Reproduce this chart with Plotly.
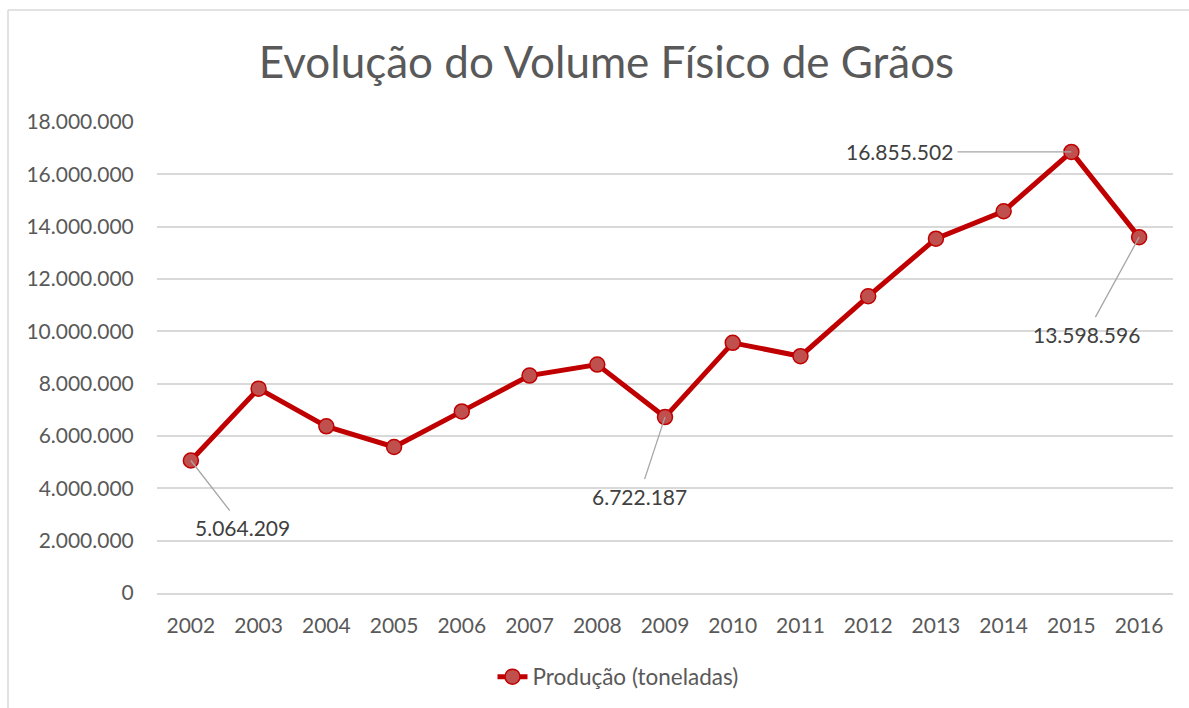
import plotly.graph_objects as go

years = ["2002", "2003", "2004", "2005", "2006", "2007", "2008", "2009",
         "2010", "2011", "2012", "2013", "2014", "2015", "2016"]
producao = [5064209, 7810000, 6370000, 5580000, 6940000, 8310000, 8730000, 6722187,
            9560000, 9050000, 11340000, 13540000, 14590000, 16855502, 13598596]
y_ticks = [0, 2000000, 4000000, 6000000, 8000000, 10000000, 12000000, 14000000, 16000000, 18000000]
labeled_years = ["2002", "2009", "2015", "2016"]
label_offsets = {"2002": (52, 67), "2009": (-26, 79), "2015": (-172, 0), "2016": (-53, 97)}

FONT = "Lato, Open Sans, sans-serif"

def fmt(v):
    return f"{v:,}".replace(",", ".")

W, H = 1189, 708
L, R, T, B = 157, 16, 122, 115
pw, ph = W - L - R, H - T - B

fig = go.Figure()
fig.add_trace(go.Scatter(
    x=years, y=producao, mode="lines+markers", name="Produção (toneladas)",
    line=dict(color="#c00000", width=5),
    marker=dict(size=15, color="#c0504d", line=dict(color="#c00000", width=1.5)),
))

annotations = []
for yr in labeled_years:
    i = years.index(yr)
    v = producao[i]
    ax, ay = label_offsets[yr]
    annotations.append(dict(
        x=i, y=v, xref="x", yref="y", text=fmt(v), showarrow=True,
        ax=ax, ay=ay, arrowhead=0, arrowwidth=1.3, arrowcolor="#a6a6a6",
        font=dict(family=FONT, size=21, color="#404040"), standoff=0, borderpad=4,
    ))

def px_x(p):
    return (p - L) / pw

def px_y(p):
    return (H - B - p) / ph

shapes = [
    dict(type="line", xref="paper", yref="paper", x0=px_x(8), x1=px_x(1189), y0=px_y(10), y1=px_y(10),
         line=dict(color="#d9d9d9", width=1.5)),
    dict(type="line", xref="paper", yref="paper", x0=px_x(8), x1=px_x(8), y0=px_y(10), y1=px_y(708),
         line=dict(color="#d9d9d9", width=1.5)),
]

fig.update_layout(
    width=W, height=H,
    margin=dict(l=L, r=R, t=T, b=B, autoexpand=False),
    paper_bgcolor="white", plot_bgcolor="white",
    title=dict(text="Evolução do Volume Físico de Grãos", x=(258 + 955) / 2 / W, xanchor="center",
               y=1 - 63 / H, yanchor="middle", yref="container",
               font=dict(family=FONT, size=44, color="#595959")),
    xaxis=dict(type="category", range=[-0.5, 14.5], showgrid=False, showline=True,
               linecolor="#d9d9d9", linewidth=1.5, ticks="outside", ticklen=13,
               tickcolor="rgba(0,0,0,0)", tickfont=dict(family=FONT, size=21, color="#595959"),
               fixedrange=True),
    yaxis=dict(range=[0, 18000000], tickvals=y_ticks, ticktext=[fmt(t) for t in y_ticks],
               showgrid=True, gridcolor="#d9d9d9", gridwidth=1.5, zeroline=False, showline=False,
               ticks="outside", ticklen=18, tickcolor="rgba(0,0,0,0)",
               tickfont=dict(family=FONT, size=21, color="#595959")),
    showlegend=True,
    legend=dict(orientation="h", x=px_x(618), xanchor="center", y=px_y(677), yanchor="middle",
                font=dict(family=FONT, size=22.5, color="#595959")),
    annotations=annotations,
    shapes=shapes,
)

fig.write_html("out.html", config={"displayModeBar": False},
               post_script="document.body.style.margin='0';document.body.style.overflow='hidden';")
